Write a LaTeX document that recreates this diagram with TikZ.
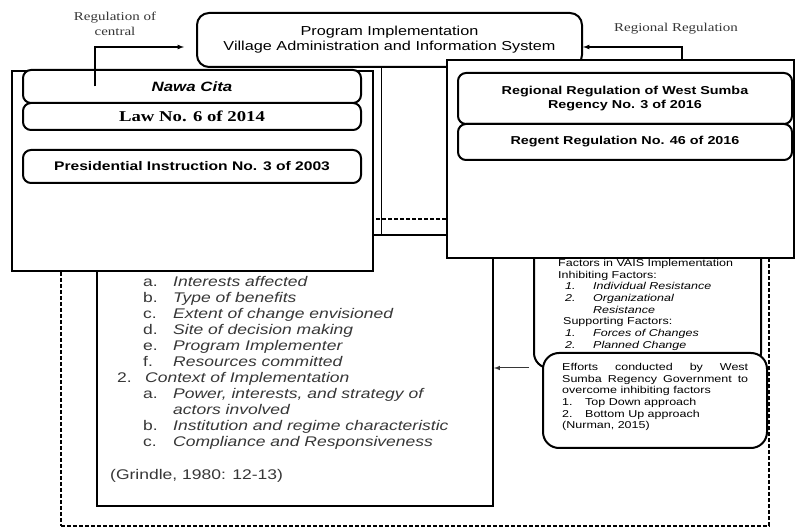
\documentclass[tikz,border=0pt]{standalone}
\usepackage{fontspec}
\setmainfont{Liberation Sans}[FakeStretch=1.25]
\newfontfamily\serifx{Liberation Serif}[FakeStretch=1.25]
\usetikzlibrary{calc}
\definecolor{txtgray}{RGB}{55,55,55}

\begin{document}
\begin{tikzpicture}[x=1pt, y=-1pt,
        frame/.style={draw, line width=2pt, fill=white, inner sep=0pt},
        rbox/.style={frame, rounded corners=8pt, align=center},
        item/.style={anchor=base west, inner sep=0pt, text=txtgray, font=\fontsize{14}{16}\selectfont},
        note/.style={anchor=north west, inner sep=0pt, font=\fontsize{10}{11.7}\selectfont},
        lbl/.style={font=\serifx\fontsize{12}{15}\selectfont, text=txtgray, align=center}]
    \useasboundingbox (0,0) rectangle (796,529);
    \fill[white] (0,0) rectangle (796,529);
    \node[draw, line width=2.2pt, dash pattern=on 4pt off 2pt, minimum width=708pt, minimum height=307pt] (outer) at (415,372.5) {};
    \node[frame, minimum width=396pt, minimum height=271pt] (main) at (295,370.5) {};
    \foreach \lab/\txt/\yy in {a./Interests affected/287, b./Type of benefits/303, c./Extent of change envisioned/319, d./Site of decision making/335, e./Program Implementer/351, f./Resources committed/367, a./{Power, interests, and strategy of}/399, /actors involved/415, b./Institution and regime characteristic/431, c./Compliance and Responsiveness/447}
        {\node[item] (lab\yy) at (143,\yy) {\lab};
         \node[item] (txt\yy) at (173,\yy) {\itshape\txt};}
    \node[item] (ctxnum) at (117,383) {2.};
    \node[item] (ctx) at (145,383) {\itshape Context of Implementation};
    \node[item] (grindle) at (110,479) {(Grindle, 1980: 12-13)};
    \node[rbox, rounded corners=15pt, minimum width=227pt, minimum height=128pt] (factors) at (647.5,304) {};
    \node[note, align=left] (factorstxt) at (558,259) {Factors in VAIS Implementation\\
        Inhibiting Factors:\\
        \hspace*{7pt}\makebox[28pt][l]{\textit{1.}}\textit{Individual Resistance}\\
        \hspace*{7pt}\makebox[28pt][l]{\textit{2.}}\textit{Organizational}\\
        \hspace*{35pt}\textit{Resistance}\\
        \hspace*{5pt}Supporting Factors:\\
        \hspace*{7pt}\makebox[28pt][l]{\textit{1.}}\textit{Forces of Changes}\\
        \hspace*{7pt}\makebox[28pt][l]{\textit{2.}}\textit{Planned Change}};
    \node[rbox, rounded corners=16pt, minimum width=224pt, minimum height=95pt] (efforts) at (655,400.5) {};
    \node[note, text width=186pt, align=justify] (effortstxt) at (562,363) {Efforts conducted by West\linebreak
        Sumba Regency Government to\linebreak overcome inhibiting factors\\
        \makebox[23pt][l]{1.}Top Down approach\\
        \makebox[23pt][l]{2.}Bottom Up approach\\
        (Nurman, 2015)};
    \coordinate (pi) at (381,67);
    \draw[line width=0.9pt] (pi) -- (pi |- main.north);
    \node[rbox, rounded corners=12pt, minimum width=385pt, minimum height=54pt, font=\fontsize{13}{15}\selectfont] (topbox) at (389.5,40) {Program Implementation\\ Village Administration and Information System};
    \node[frame, minimum width=361pt, minimum height=200pt] (leftframe) at (192.5,171) {};
    \node[rbox, minimum width=338pt, minimum height=27pt, font=\serifx\bfseries\fontsize{15}{17}\selectfont] (law) at (192,116.5) {Law No. 6 of 2014};
    \node[rbox, minimum width=338pt, minimum height=33pt, font=\bfseries\itshape\fontsize{13.5}{16}\selectfont] (nawa) at (192,86.5) {Nawa Cita};
    \node[rbox, minimum width=338pt, minimum height=33pt, font=\bfseries\fontsize{12.5}{15}\selectfont] (pres) at (192,166.5) {Presidential Instruction No. 3 of 2003};
    \node[frame, minimum width=347pt, minimum height=198pt] (rightframe) at (620.5,159) {};
    \node[rbox, minimum width=334pt, minimum height=51pt, font=\bfseries\fontsize{11.5}{14}\selectfont] (regional) at (625,98.5) {Regional Regulation of West Sumba\\ Regency No. 3 of 2016};
    \node[rbox, minimum width=334pt, minimum height=36pt, font=\bfseries\fontsize{11.5}{14}\selectfont] (regent) at (625,142) {Regent Regulation No. 46 of 2016};
    \node[lbl] (centrallbl) at (115,24) {Regulation of\\ central};
    \node[lbl] (regionallbl) at (676,29) {Regional Regulation};
    \draw[->, >=latex, line width=1.2pt] ($(nawa.west)+(73,0)$) |- ($(topbox.west)+(-12,7)$);
    \draw[->, >=latex, line width=1.2pt] ($(rightframe.north)+(61.5,0)$) |- ($(topbox.east)+(0,7)$);
    \coordinate (effin) at ($(efforts.west)+(-13,-32.5)$);
    \draw[->, >=latex, line width=1pt, txtgray] (effin) -- (effin -| main.east);
\end{tikzpicture}
\end{document}
